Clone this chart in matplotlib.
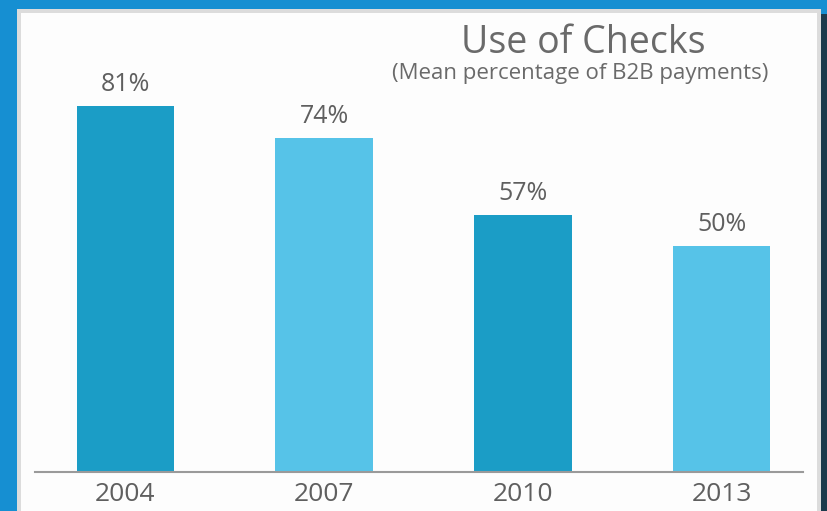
# bar chart: use of checks as share of B2B payments

import matplotlib.pyplot as plt
from matplotlib.patches import Rectangle

# data
years = ["2004", "2007", "2010", "2013"]
check_share = [81, 74, 57, 50]
bar_colors = ["#1b9dc6", "#56c3e8", "#1b9dc6", "#56c3e8"]

W, H = 828, 511
fig = plt.figure(figsize=(W / 100, H / 100), dpi=100)
fig.patch.set_facecolor("#168fd2")

# light grey border and white card
fig.add_artist(Rectangle((17 / W, 0), (821 - 17) / W, (H - 9) / H,
                         transform=fig.transFigure, facecolor="#dcdcdc",
                         edgecolor="none", zorder=0))
fig.add_artist(Rectangle((21 / W, 0), (817 - 21) / W, (H - 13) / H,
                         transform=fig.transFigure, facecolor="#fdfdfd",
                         edgecolor="none", zorder=0))
# dark strip along the right edge
fig.add_artist(Rectangle((821 / W, 0), 7 / W, (H - 14) / H,
                         transform=fig.transFigure, facecolor="#1c3a4c",
                         edgecolor="none", zorder=0))

ax = fig.add_axes([35 / W, 39 / H, 768 / W, 447 / H])
ax.set_facecolor("none")

x = list(range(len(years)))
bars = ax.bar(x, check_share, width=0.49, color=bar_colors, zorder=2)

for xi, v in zip(x, check_share):
    ax.text(xi, v + 2.0, f"{v}%", ha="center", va="bottom",
            fontsize=18, color="#5f5f5f", family="Open Sans")

ax.set_xlim(-0.455, 3.41)
ax.set_ylim(0, 99)
ax.set_xticks(x)
ax.set_xticklabels(years, fontsize=19, color="#5f5f5f", family="Open Sans")
ax.tick_params(axis="x", length=0, pad=7)
ax.set_yticks([])

for side in ["top", "right", "left"]:
    ax.spines[side].set_visible(False)
ax.spines["bottom"].set_color("#9a9a9a")
ax.spines["bottom"].set_linewidth(1.5)

fig.text(583 / W, 1 - 43 / H, "Use of Checks", ha="center", va="center",
         fontsize=27, color="#6a6a6a", family="Open Sans")
fig.text(580 / W, 1 - 74 / H, "(Mean percentage of B2B payments)",
         ha="center", va="center", fontsize=16, color="#6a6a6a",
         family="Open Sans")

fig.savefig("out.png", dpi=100, facecolor=fig.get_facecolor())
